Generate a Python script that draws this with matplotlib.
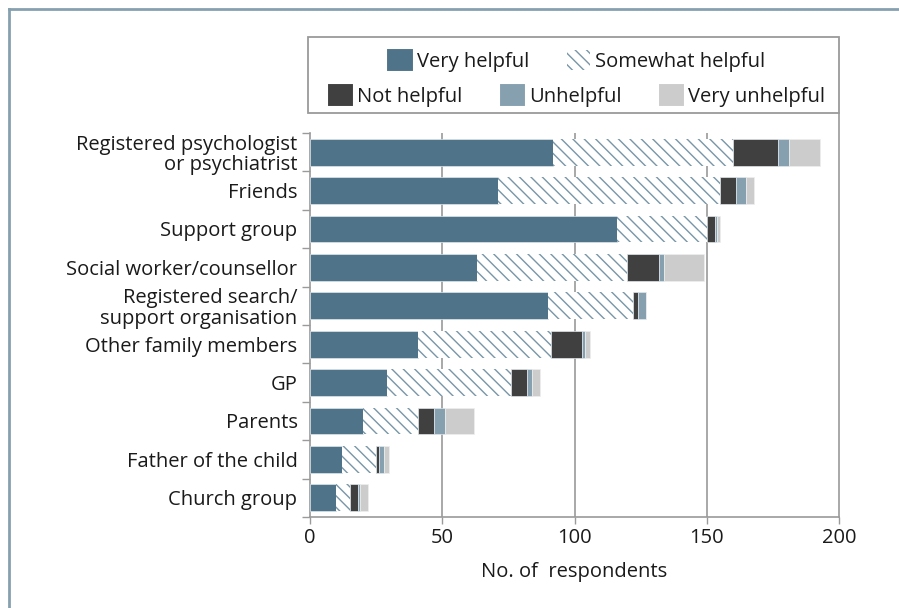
import numpy as np
import matplotlib
matplotlib.use("Agg")
import matplotlib.pyplot as plt
from matplotlib.patches import Patch, Rectangle
from matplotlib.lines import Line2D

# dpi chosen so the hatch spacing matches the original (~11 px)
DPI = 137
k = 100 / DPI  # converts sizes tuned at 100 dpi

plt.rcParams['font.family'] = ['Open Sans', 'DejaVu Sans']
plt.rcParams['hatch.linewidth'] = 1.0 * k

categories = ["Registered psychologist\nor psychiatrist", "Friends", "Support group",
              "Social worker/counsellor", "Registered search/\nsupport organisation",
              "Other family members", "GP", "Parents", "Father of the child", "Church group"]
very_helpful = [92, 71, 116, 63, 90, 41, 29, 20, 12, 10]
somewhat_helpful = [68, 84, 34, 57, 32, 50, 47, 21, 13, 5]
not_helpful = [17, 6, 3, 12, 2, 12, 6, 6, 1, 3]
unhelpful = [4, 4, 1, 2, 3, 1, 2, 4, 2, 1]
very_unhelpful = [12, 3, 1, 15, 0, 2, 3, 11, 2, 3]
series_names = ["Very helpful", "Somewhat helpful", "Not helpful", "Unhelpful", "Very unhelpful"]
x_ticks = [0, 50, 100, 150, 200]

c_vh = "#4f7389"
c_hatch = "#7896a8"
c_nh = "#404040"
c_un = "#86a0b0"
c_vu = "#cccccc"
grid_c = "#9a9a9a"
txt_c = "#1a1a1a"
fs = 14.5 * k
lw = 1.2 * k

fig = plt.figure(figsize=(899 / DPI, 608 / DPI), dpi=DPI)
ax = fig.add_axes([310/899, 1-517/608, (839-310)/899, (517-133)/608])

y = np.arange(len(categories))
h = 0.7
left = np.zeros(len(categories))
ax.barh(y, very_helpful, h, left=left, color=c_vh, edgecolor="#dfe6eb", linewidth=0.5*k, zorder=3)
left += very_helpful
ax.barh(y, somewhat_helpful, h, left=left, color="white", edgecolor=c_hatch, hatch="\\\\\\\\", linewidth=0, zorder=3)
left += somewhat_helpful
ax.barh(y, not_helpful, h, left=left, color=c_nh, edgecolor="#dfe6eb", linewidth=0.5*k, zorder=3)
left += not_helpful
ax.barh(y, unhelpful, h, left=left, color=c_un, edgecolor="#dfe6eb", linewidth=0.5*k, zorder=3)
left += unhelpful
ax.barh(y, very_unhelpful, h, left=left, color=c_vu, edgecolor="#eeeeee", linewidth=0.5*k, zorder=3)

ax.set_xlim(0, 200)
ax.set_ylim(len(categories) - 0.5, -0.5)
ax.set_xticks(x_ticks)
ax.set_xticklabels([str(t) for t in x_ticks], fontsize=fs, color=txt_c)
ax.set_yticks(y)
ax.set_yticklabels(categories, fontsize=fs, color=txt_c, linespacing=1.05)
ax.set_yticks(np.arange(len(categories) + 1) - 0.5, minor=True)
ax.tick_params(axis='y', which='major', length=0, pad=9*k)
ax.tick_params(axis='y', which='minor', length=6*k, color=grid_c, width=1*k)
ax.tick_params(axis='x', length=5*k, color=grid_c, width=1*k, pad=3*k)

for s in ["top", "right"]:
    ax.spines[s].set_visible(False)
for s in ["left", "bottom"]:
    ax.spines[s].set_color(grid_c)
    ax.spines[s].set_linewidth(lw)

for t in x_ticks[1:-1]:
    ax.axvline(t, color=grid_c, linewidth=lw, zorder=1)
ax.plot([200, 200], [0, (517-113)/(517-133)], transform=ax.get_xaxis_transform(),
        color=grid_c, linewidth=lw, clip_on=False, zorder=1)

ax.set_xlabel("No. of  respondents", fontsize=fs, color=txt_c, labelpad=10*k)

# legend: two rows inside one frame
handles = [Patch(facecolor=c_vh, edgecolor=c_vh),
           Patch(facecolor="white", edgecolor=c_hatch, hatch="\\\\\\\\", linewidth=0),
           Patch(facecolor=c_nh, edgecolor=c_nh),
           Patch(facecolor=c_un, edgecolor=c_un),
           Patch(facecolor=c_vu, edgecolor=c_vu)]
leg_kw = dict(frameon=False, fontsize=fs, handlelength=1.15, handleheight=1.15,
              handletextpad=0.25, columnspacing=1.9, borderpad=0, borderaxespad=0)
leg1 = fig.legend(handles[:2], series_names[:2], ncol=2, loc="center",
                  bbox_to_anchor=(577/899, 1-61/608), **leg_kw)
leg2 = fig.legend(handles[2:], series_names[2:], ncol=3, loc="center",
                  bbox_to_anchor=(577/899, 1-96/608), **leg_kw)
for lg in (leg1, leg2):
    for t in lg.get_texts():
        t.set_color(txt_c)
fig.add_artist(Rectangle((308/899, 1-113/608), (839-308)/899, 76/608, transform=fig.transFigure,
                         fill=False, edgecolor=grid_c, linewidth=1.3*k))

# outer frame (left and top only)
fig.add_artist(Line2D([8.5/899, 8.5/899], [0, 1-9/608], transform=fig.transFigure, color="#86a0b0", linewidth=2*k))
fig.add_artist(Line2D([8.5/899, 1], [1-9/608, 1-9/608], transform=fig.transFigure, color="#86a0b0", linewidth=2*k))

fig.savefig("out.png", dpi=DPI)
